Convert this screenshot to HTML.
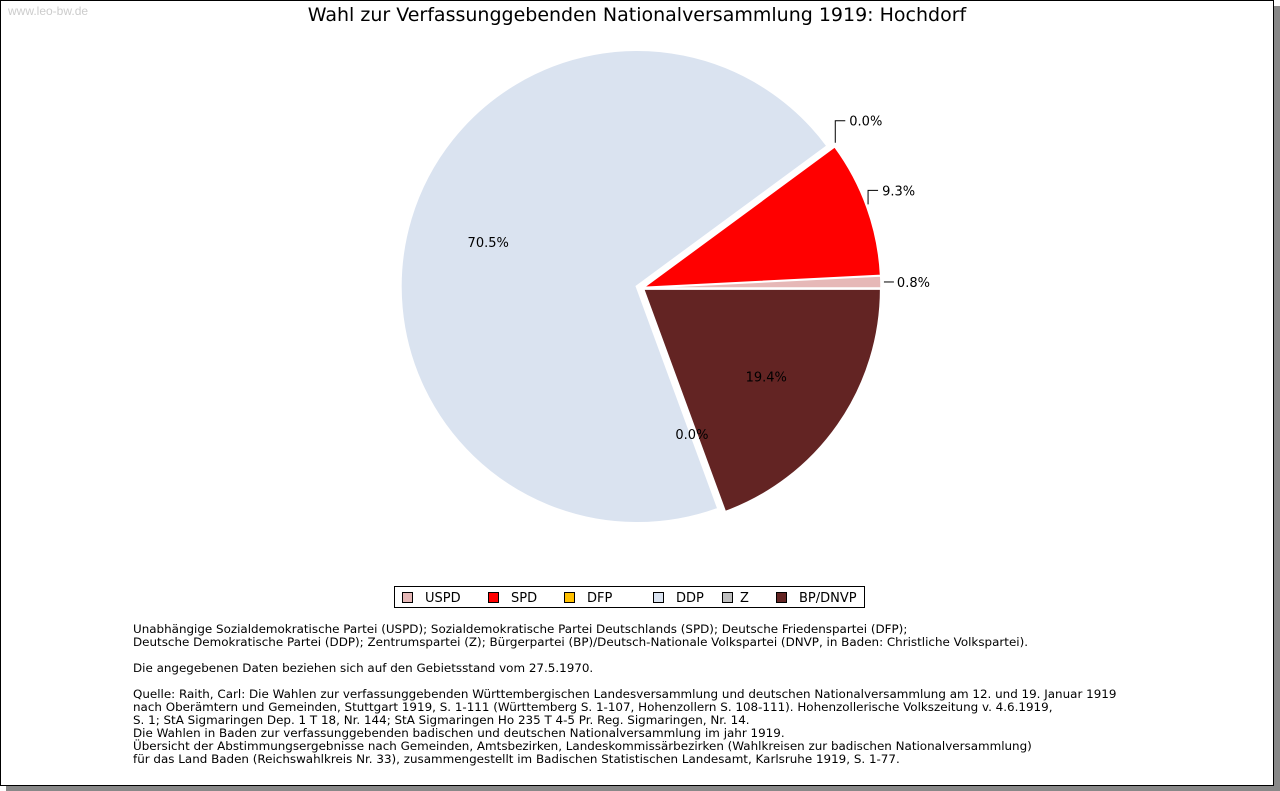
<!DOCTYPE html>
<html><head><meta charset="utf-8"><style>
body{margin:0;background:#fff;font-family:"DejaVu Sans","Liberation Sans",sans-serif;}
#frame{position:absolute;left:0;top:0;width:1272px;height:784px;border:1px solid #000;background:#fff;box-shadow:6px 6px 0 #888;}
#wm{position:absolute;left:8px;top:4px;font-size:12px;color:#ccc;font-family:"Liberation Sans",sans-serif;}
#notes{position:absolute;left:133px;top:623px;font-size:11.92px;line-height:13px;color:#000;white-space:pre;}
</style></head><body>
<div id="frame"></div>
<div id="wm">www.leo-bw.de</div>
<svg id="chart" width="1280" height="791" style="position:absolute;left:0;top:0">
<text x="637" y="21" text-anchor="middle" font-size="19">Wahl zur Verfassunggebenden Nationalversammlung 1919: Hochdorf</text>
<g id="slices"></g><g id="labels"></g>
<g>
<rect x="394.5" y="586.5" width="470" height="21" fill="#fff" stroke="#000"/>
<g id="legend"></g></g>
</svg>
<div id="notes">Unabhängige Sozialdemokratische Partei (USPD); Sozialdemokratische Partei Deutschlands (SPD); Deutsche Friedenspartei (DFP);
Deutsche Demokratische Partei (DDP); Zentrumspartei (Z); Bürgerpartei (BP)/Deutsch-Nationale Volkspartei (DNVP, in Baden: Christliche Volkspartei).

Die angegebenen Daten beziehen sich auf den Gebietsstand vom 27.5.1970.

Quelle: Raith, Carl: Die Wahlen zur verfassunggebenden Württembergischen Landesversammlung und deutschen Nationalversammlung am 12. und 19. Januar 1919
nach Oberämtern und Gemeinden, Stuttgart 1919, S. 1-111 (Württemberg S. 1-107, Hohenzollern S. 108-111). Hohenzollerische Volkszeitung v. 4.6.1919,
S. 1; StA Sigmaringen Dep. 1 T 18, Nr. 144; StA Sigmaringen Ho 235 T 4-5 Pr. Reg. Sigmaringen, Nr. 14.
Die Wahlen in Baden zur verfassunggebenden badischen und deutschen Nationalversammlung im jahr 1919.
Übersicht der Abstimmungsergebnisse nach Gemeinden, Amtsbezirken, Landeskommissärbezirken (Wahlkreisen zur badischen Nationalversammlung)
für das Land Baden (Reichswahlkreis Nr. 33), zusammengestellt im Badischen Statistischen Landesamt, Karlsruhe 1919, S. 1-77.</div>
<script>
const parties=["USPD","SPD","DFP","DDP","Z","BP/DNVP"];
const values=[0.8,9.3,0.0,70.5,0.0,19.4];
const colors=["#e6b8b7","#ff0000","#ffc000","#dae3f0","#bfbfbf","#632423"];
const NS="http://www.w3.org/2000/svg";
const cx=642,cy=288,R=237;
const total=values.reduce((a,b)=>a+b,0);
const sg=document.getElementById('slices'),lg=document.getElementById('labels');
function pt(a,r,ox,oy){return [ox+r*Math.cos(a),oy-r*Math.sin(a)];}
let ang=0;
values.forEach((v,i)=>{
  const sw=v/total*2*Math.PI, a0=ang, a1=ang+sw, mid=(a0+a1)/2; ang=a1;
  const big=values[i]>40, off=big?5:2;
  const ox=cx+off*Math.cos(mid), oy=cy-off*Math.sin(mid);
  if(v>0){
    const p0=pt(a0,R,ox,oy),p1=pt(a1,R,ox,oy);
    const p=document.createElementNS(NS,'path');
    p.setAttribute('d',`M${ox},${oy}L${p0[0]},${p0[1]}A${R},${R} 0 ${sw>Math.PI?1:0} 0 ${p1[0]},${p1[1]}Z`);
    p.setAttribute('fill',colors[i]);p.setAttribute('stroke','#fff');p.setAttribute('stroke-width',big?3:1.5);
    
    
    sg.appendChild(p);
  }
  const t=document.createElementNS(NS,'text');
  t.setAttribute('font-size','13');
  t.textContent=v.toFixed(1)+'%';
  
  
  const inside=v>15||(v===0&&mid>Math.PI);
  if(inside){
    const q=pt(mid,R*0.66,cx,cy);
    t.setAttribute('x',q[0]-4);t.setAttribute('y',q[1]+4);t.setAttribute('text-anchor','middle');
  } else {
    const e=pt(mid,R+1,ox,oy), horiz=Math.sin(mid)<0.1;
    const L=mid>0.5?22:14;
    const l=document.createElementNS(NS,'path');
    if(horiz){l.setAttribute('d',`M${e[0]+2},${e[1]}h10`);t.setAttribute('x',e[0]+15);t.setAttribute('y',e[1]+5);}
    else{l.setAttribute('d',`M${e[0]},${e[1]-3}v-${L}h10`);t.setAttribute('x',e[0]+14);t.setAttribute('y',e[1]-L+2);}
    l.setAttribute('stroke','#000');l.setAttribute('fill','none');
    
    
    lg.appendChild(l);
  }
  lg.appendChild(t);
});
const lgd=document.getElementById('legend');
const lx=[402,488,564,653,722,776];
parties.forEach((p,i)=>{
  const g=document.createElementNS(NS,'g');
  
  
  g.innerHTML=`<rect x="${lx[i]+0.5}" y="592.5" width="10" height="10" fill="${colors[i]}" stroke="#000"/><text x="${lx[i]+(i==4?18:23)}" y="602" font-size="13">${p}</text>`;
  lgd.appendChild(g);
});
</script>
</body></html>
